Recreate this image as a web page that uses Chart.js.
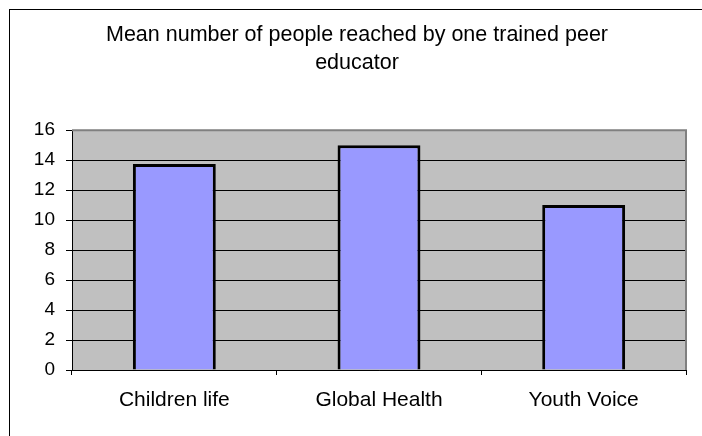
<!DOCTYPE html>
<html>
<head>
<meta charset="utf-8">
<script src="https://cdn.jsdelivr.net/npm/chart.js@4/dist/chart.umd.min.js"></script>
<style>
  body { margin: 0; background: #fff; overflow: hidden; }
  #frame { position: absolute; left: 9px; top: 9px; width: 800px; height: 600px;
           border-left: 1px solid #000; border-top: 1px solid #000; }
  #wrap { position: absolute; left: 0; top: 0; width: 702px; height: 436px; }
</style>
</head>
<body>
<div id="frame"></div>
<div id="wrap"><canvas id="report_chart" width="702" height="436"></canvas></div>
<script>
var programs = ["Children life", "Global Health", "Youth Voice"];
var mean_reached = [13.75, 15, 11];
var y_ticks = [0, 2, 4, 6, 8, 10, 12, 14, 16];

var font_family = "'Liberation Sans', Arial, sans-serif";

// gray plot background and its gray top/right edge
var plotArea = {
  id: "plotArea",
  beforeDraw: function(chart) {
    var c = chart.ctx, a = chart.chartArea;
    c.save();
    c.fillStyle = "#c0c0c0";
    c.fillRect(a.left, a.top, a.right - a.left, a.bottom - a.top);
    c.restore();
  },
  afterDatasetsDraw: function(chart) {
    var c = chart.ctx, a = chart.chartArea;
    c.save();
    c.strokeStyle = "#808080";
    c.lineWidth = 2;
    c.beginPath();
    c.moveTo(a.left, a.top);
    c.lineTo(a.right, a.top);
    c.lineTo(a.right, a.bottom);
    c.stroke();
    c.restore();
  }
};

var chartdata = {
  labels: programs,
  datasets: [{
    label: "Mean number of people reached",
    data: mean_reached,
    backgroundColor: "#9999ff",
    borderColor: "#000000",
    borderWidth: 3,
    barPercentage: 0.405,
    categoryPercentage: 1.0
  }]
};

var ctx = document.getElementById("report_chart");

var barGraph = new Chart(ctx, {
  type: "bar",
  data: chartdata,
  plugins: [plotArea],
  options: {
    responsive: false,
    animation: false,
    layout: { padding: { left: 28, right: 16, top: 0, bottom: 0 } },
    plugins: {
      legend: { display: false },
      tooltip: { enabled: false },
      title: {
        display: true,
        text: ["Mean number of people reached by one trained peer", "educator"],
        color: "#000",
        font: { family: font_family, size: 21.5, weight: "normal", lineHeight: 1.26 },
        padding: { top: 22, bottom: 54 }
      }
    },
    scales: {
      x: {
        offset: true,
        grid: { offset: true, drawOnChartArea: false, drawTicks: true, tickLength: 5, color: "#000" },
        border: { color: "#000", width: 1 },
        ticks: { color: "#000", font: { family: font_family, size: 21 }, padding: 13, maxRotation: 0 },
        afterFit: function(s) { s.height = 66; }
      },
      y: {
        min: 0,
        max: 16,
        afterBuildTicks: function(s) { s.ticks = y_ticks.map(function(v) { return { value: v }; }); },
        grid: {
          color: function(c) { return c.tick && c.tick.value === 16 ? "rgba(0,0,0,0)" : "#000"; },
          tickColor: "#000",
          tickLength: 6,
          lineWidth: 1
        },
        border: { color: "#000", width: 1 },
        ticks: { color: "#000", font: { family: font_family, size: 19 }, padding: 11 },
        afterFit: function(s) { s.width = 44; }
      }
    }
  }
});
</script>
</body>
</html>
